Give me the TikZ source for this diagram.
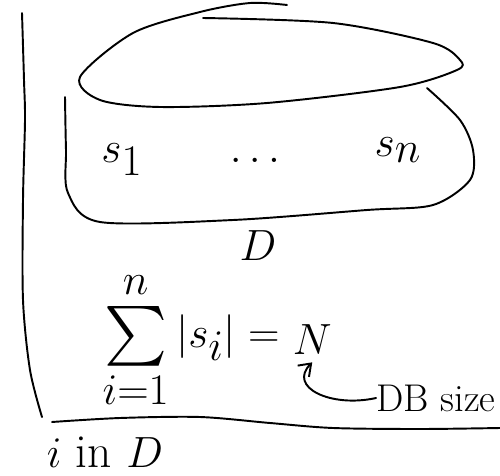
\documentclass[tikz,border=0pt]{standalone}
\usepackage{amsmath,amssymb}
\usepackage{tikz}
\usetikzlibrary{positioning,arrows.meta}

\begin{document}
\begin{tikzpicture}[x=0.02cm, y=-0.02cm,
  every node/.style={inner sep=0pt},
  pen/.style={line width=1.1pt, line cap=round, line join=round},
  big/.style={font=\fontsize{34}{40}\selectfont},
  mid/.style={font=\fontsize{27}{32}\selectfont},
  small/.style={font=\fontsize{22}{26}\selectfont},
  arr/.style={pen, -{Straight Barb[length=2.2mm, width=3.2mm]}}]
\useasboundingbox (0,0) rectangle (500,476);

% ---------------- frame ----------------
\draw[pen] plot[smooth] coordinates {(22,13) (24,80) (25,120) (23,200) (23,300) (30,370) (42,417)};
\draw[pen] plot[smooth] coordinates {(52,422) (120,418) (200,417) (270,423) (333,428) (420,429) (500,428)};

% ---------------- top loop ----------------
\draw[pen] plot[smooth] coordinates {(287,5) (250,3) (200,12) (133,33) (80,77) (100,100) (160,107) (267,103) (400,87) (457,70) (460,60) (433,43) (333,23) (203,18)};

% ---------------- lower loop (D) ----------------
\draw[pen] plot[smooth] coordinates {(65,97) (66,150) (68,193) (100,222) (233,220) (367,210) (433,205) (470,180) (473,150) (460,120) (427,88)};

% ---------------- labels ----------------
\node[big] (s1) at (122,160) {$s_1$};
\node[big] (dots) at (255,160) {$\ldots$};
\node[big] (sn) at (398,150) {$s_n$};
\node[big] (D) at (258,246) {$D$};

% ---------------- size equation ----------------
\node[big, anchor=east] (sumlhs) at (280,340) {$\sum\limits_{i=1}^{n}|s_i| =$};
\node[big, right=0.25cm of sumlhs] (N) {$N$};
\node[small] (dbsize) at (436,398) {DB size};
\draw[arr] (dbsize.west) .. controls +(-45,10) and +(-25,25) .. ([yshift=-4pt]N.south);

% ---------------- bottom note ----------------
\node[mid] (iinD) at (105,452) {$i$ in $D$};
\end{tikzpicture}
\end{document}
